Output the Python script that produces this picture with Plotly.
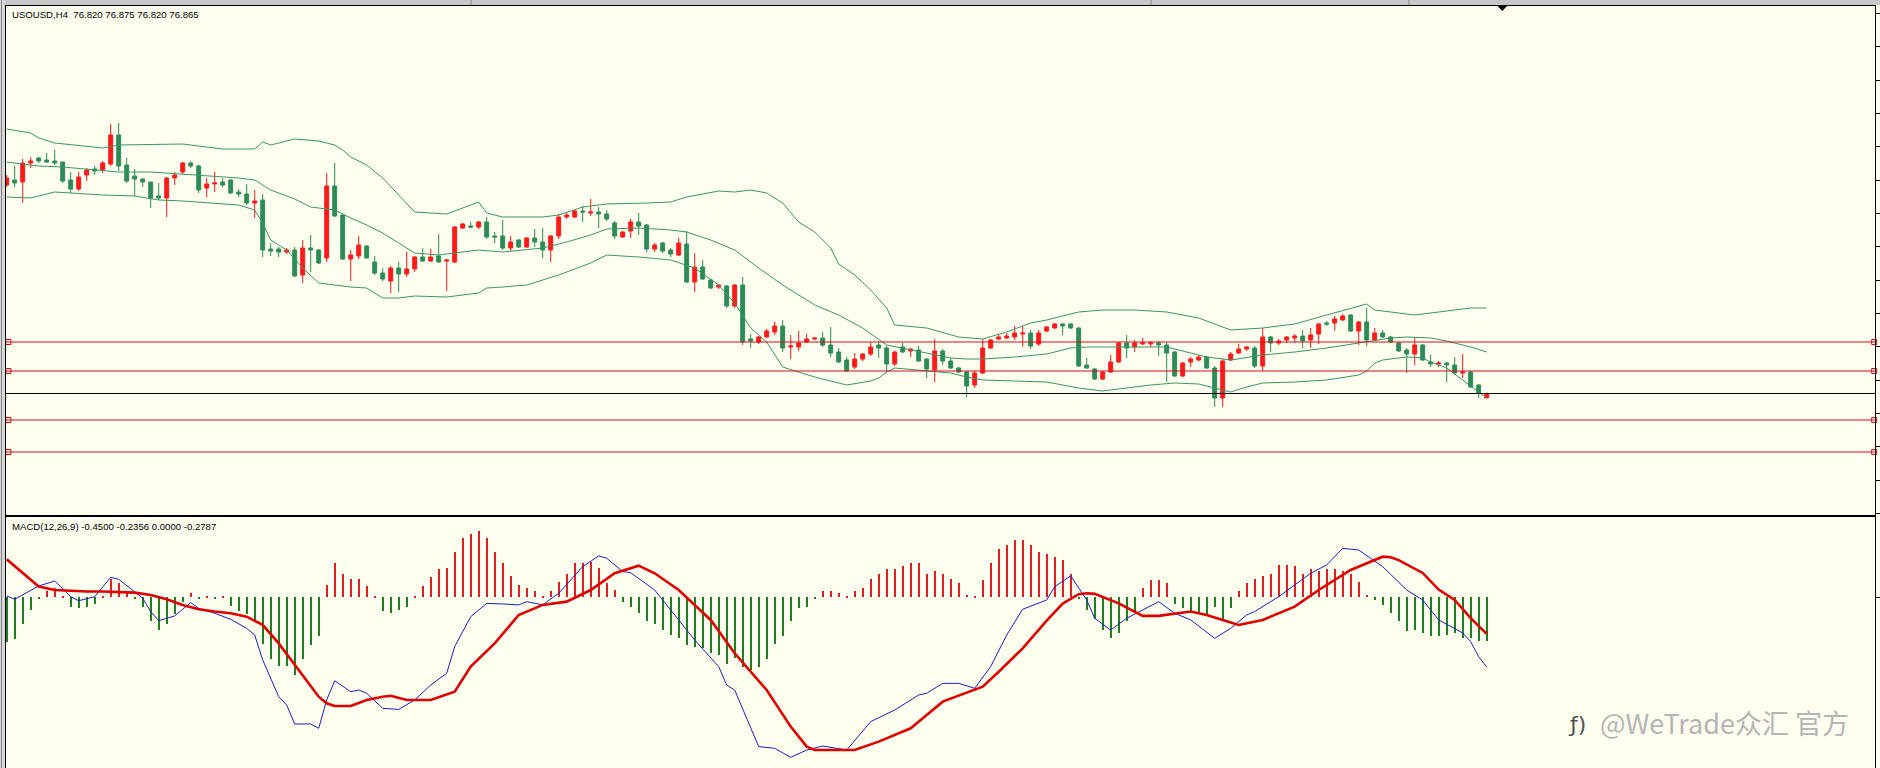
import plotly.graph_objects as go

# ---------------- data ----------------
symbol_header = "USOUSD,H4\u00a0\u00a076.820 76.875 76.820 76.865"
macd_header = "MACD(12,26,9) -0.4500 -0.2356 0.0000 -0.2787"

opens = [78.95,79.00,78.98,79.17,79.22,79.20,79.19,79.18,79.00,78.91,79.05,79.11,79.10,79.16,79.45,79.15,79.04,79.01,78.98,78.84,
         78.82,79.02,79.08,79.17,79.14,78.92,78.96,78.98,79.00,78.88,78.86,78.77,78.80,78.31,78.31,78.28,78.30,78.05,78.32,78.30,
         78.22,78.94,78.65,78.21,78.24,78.34,78.18,78.07,77.99,78.12,78.06,78.11,78.23,78.19,78.24,78.19,78.18,78.52,78.54,78.53,
         78.58,78.44,78.44,78.32,78.40,78.33,78.42,78.38,78.30,78.44,78.63,78.63,78.69,78.67,78.68,78.66,78.57,78.43,78.49,78.58,
         78.55,78.31,78.37,78.30,78.25,78.36,77.98,78.13,78.00,77.93,77.94,77.74,77.95,77.41,77.38,77.43,77.48,77.54,77.33,77.33,
         77.38,77.41,77.42,77.35,77.28,77.20,77.13,77.21,77.26,77.35,77.32,77.16,77.33,77.29,77.30,77.21,77.10,77.29,77.19,77.12,
         77.08,76.95,77.07,77.32,77.41,77.42,77.43,77.46,77.47,77.36,77.49,77.52,77.56,77.56,77.52,77.15,77.11,77.01,77.08,77.18,
         77.37,77.33,77.36,77.36,77.37,77.35,77.28,77.04,77.18,77.20,77.23,77.12,76.82,77.20,77.27,77.31,77.32,77.14,77.43,77.37,
         77.40,77.42,77.44,77.40,77.46,77.57,77.57,77.60,77.65,77.49,77.58,77.40,77.47,77.43,77.37,77.30,77.26,77.35,77.18,77.16,
         77.17,77.15,77.07,77.08,76.95,76.820]
highs = [79.05,79.14,79.21,79.23,79.23,79.27,79.30,79.18,79.08,79.08,79.12,79.14,79.19,79.56,79.57,79.22,79.11,79.02,78.98,78.97,
         79.03,79.08,79.18,79.19,79.15,79.02,79.08,79.02,79.01,78.91,78.96,78.90,78.86,78.37,78.33,78.32,78.33,78.40,78.45,78.31,
         79.07,79.17,78.65,78.30,78.44,78.35,78.24,78.12,78.14,78.18,78.28,78.24,78.32,78.31,78.46,78.21,78.54,78.57,78.58,78.59,
         78.63,78.48,78.60,78.44,78.41,78.43,78.51,78.52,78.45,78.66,78.68,78.70,78.74,78.81,78.73,78.70,78.59,78.49,78.61,78.67,
         78.56,78.37,78.38,78.32,78.42,78.49,78.27,78.20,78.01,77.96,77.95,77.96,78.03,77.46,77.44,77.51,77.58,77.60,77.45,77.49,
         77.46,77.43,77.48,77.53,77.32,77.23,77.27,77.27,77.38,77.39,77.34,77.29,77.37,77.32,77.34,77.22,77.41,77.31,77.22,77.13,
         77.09,77.09,77.41,77.41,77.46,77.47,77.54,77.54,77.50,77.50,77.54,77.57,77.57,77.57,77.53,77.22,77.12,77.09,77.25,77.38,
         77.45,77.40,77.42,77.39,77.39,77.38,77.29,77.18,77.23,77.25,77.24,77.14,77.21,77.28,77.36,77.34,77.34,77.52,77.44,77.41,
         77.44,77.46,77.50,77.52,77.57,77.59,77.64,77.66,77.66,77.59,77.72,77.52,77.50,77.44,77.38,77.32,77.43,77.36,77.25,77.19,
         77.18,77.23,77.26,77.09,76.96,76.875]
lows = [78.93,78.93,78.77,79.12,79.17,79.17,79.15,78.97,78.87,78.89,78.99,79.05,79.07,79.14,79.09,78.97,78.84,78.93,78.72,78.80,
        78.63,78.95,79.06,79.12,78.87,78.83,78.88,78.93,78.86,78.83,78.75,78.62,78.23,78.24,78.23,78.26,78.03,77.97,78.08,78.16,
        78.18,78.63,78.20,77.99,78.21,78.22,78.05,77.99,77.87,77.88,78.03,78.08,78.18,78.18,78.17,77.89,78.17,78.51,78.52,78.51,
        78.41,78.37,78.30,78.29,78.32,78.32,78.33,78.22,78.18,78.41,78.61,78.62,78.58,78.64,78.52,78.59,78.41,78.42,78.42,78.45,
        78.28,78.28,78.27,78.23,78.24,77.97,77.88,78.00,77.91,77.91,77.72,77.72,77.35,77.32,77.36,77.42,77.45,77.28,77.21,77.29,
        77.37,77.40,77.33,77.23,77.17,77.08,77.11,77.19,77.24,77.22,77.08,77.14,77.27,77.23,77.18,77.02,76.98,77.15,77.11,77.07,
        76.83,76.92,77.06,77.31,77.40,77.41,77.40,77.33,77.31,77.34,77.48,77.51,77.45,77.51,77.13,77.11,77.00,77.00,77.07,77.17,
        77.22,77.28,77.35,77.33,77.24,76.98,77.03,77.03,77.13,77.19,77.11,76.73,76.73,77.19,77.26,77.29,77.12,77.09,77.28,77.35,
        77.37,77.37,77.32,77.32,77.36,77.54,77.49,77.59,77.48,77.35,77.34,77.39,77.42,77.37,77.28,77.07,77.15,77.19,77.13,77.13,
        76.98,77.05,77.02,76.92,76.82,76.820]
closes = [79.02,78.97,79.17,79.19,79.19,79.18,79.17,78.99,78.91,79.03,79.10,79.09,79.17,79.45,79.14,78.99,79.01,78.98,78.82,78.82,
          79.02,79.05,79.17,79.14,78.90,78.96,78.97,78.95,78.87,78.86,78.77,78.79,78.30,78.29,78.28,78.30,78.04,78.32,78.30,78.17,
          78.94,78.64,78.21,78.25,78.35,78.22,78.07,78.01,78.12,78.06,78.11,78.23,78.19,78.23,78.18,78.20,78.53,78.56,78.53,78.58,
          78.43,78.43,78.32,78.38,78.33,78.42,78.38,78.30,78.44,78.63,78.65,78.69,78.68,78.68,78.66,78.61,78.44,78.48,78.58,78.54,
          78.31,78.35,78.29,78.26,78.37,77.98,78.13,78.01,77.92,77.95,77.74,77.95,77.38,77.39,77.43,77.49,77.54,77.32,77.34,77.37,
          77.41,77.42,77.35,77.27,77.18,77.09,77.21,77.26,77.33,77.32,77.16,77.28,77.28,77.31,77.19,77.11,77.29,77.19,77.12,77.08,
          76.94,77.07,77.32,77.40,77.43,77.44,77.47,77.47,77.34,77.47,77.53,77.56,77.54,77.52,77.14,77.12,77.01,77.08,77.18,77.37,
          77.32,77.37,77.37,77.37,77.35,77.27,77.04,77.17,77.21,77.23,77.12,76.82,77.19,77.26,77.31,77.33,77.14,77.43,77.37,77.39,
          77.43,77.44,77.39,77.45,77.56,77.56,77.61,77.64,77.49,77.58,77.40,77.47,77.43,77.38,77.29,77.26,77.35,77.20,77.16,77.17,
          77.15,77.07,77.08,76.93,76.87,76.865]

bb_up_idx = [0,3,4,6,12,14,22,27,31,32,33,36,39,41,42,43,45,47,49,51,55,59,60,62,67,69,72,75,80,83,85,89,91,93,95,97,99,101,
             103,104,106,108,110,111,115,119,122,125,128,130,134,137,141,145,149,153,157,161,165,168,170,171,174,176,179,183,185]
bb_up = [79.51,79.47,79.42,79.37,79.32,79.35,79.36,79.31,79.31,79.38,79.35,79.41,79.39,79.35,79.30,79.23,79.15,79.02,78.85,78.68,
         78.66,78.78,78.67,78.63,78.63,78.65,78.73,78.76,78.77,78.78,78.83,78.89,78.88,78.90,78.87,78.77,78.58,78.48,78.32,78.16,
         78.05,77.90,77.72,77.55,77.52,77.43,77.41,77.48,77.57,77.60,77.68,77.70,77.70,77.68,77.62,77.50,77.52,77.56,77.65,77.72,
         77.76,77.70,77.67,77.65,77.68,77.72,77.72]
bb_mid_idx = [0,4,7,10,14,18,20,22,26,29,31,33,36,38,41,43,45,47,49,51,54,56,59,62,67,70,73,75,79,83,85,88,91,94,97,99,101,
              104,107,110,112,115,118,120,122,126,130,133,135,140,145,150,153,157,161,165,169,173,175,178,180,183,185]
bb_mid = [79.18,79.14,79.13,79.11,79.08,79.08,79.07,79.06,79.04,79.02,79.00,78.90,78.81,78.73,78.70,78.62,78.55,78.47,78.37,78.27,
          78.25,78.27,78.30,78.28,78.32,78.38,78.45,78.51,78.52,78.50,78.48,78.40,78.30,78.12,77.95,77.85,77.75,77.65,77.52,77.35,
          77.32,77.27,77.22,77.21,77.21,77.23,77.26,77.32,77.33,77.33,77.33,77.23,77.20,77.25,77.28,77.32,77.37,77.42,77.43,77.42,
          77.39,77.33,77.28]
bb_low_idx = [0,3,6,8,12,16,19,22,26,29,31,32,33,35,37,39,43,45,47,49,51,55,59,60,62,65,69,73,75,79,83,86,89,91,93,95,97,101,
              105,108,109,110,111,114,118,120,122,126,130,134,137,140,143,146,149,152,153,155,157,161,165,169,170,171,172,175,
              177,178,180,182,184,185]
bb_low = [78.83,78.82,78.88,78.87,78.85,78.84,78.80,78.79,78.77,78.75,78.70,78.57,78.40,78.30,78.12,77.97,77.93,77.92,77.82,77.82,
          77.84,77.83,77.87,77.92,77.93,77.95,78.05,78.17,78.25,78.23,78.20,78.12,77.95,77.77,77.52,77.38,77.13,77.03,76.95,76.99,
          77.02,77.08,77.12,77.10,77.07,77.03,77.00,76.99,76.98,76.92,76.89,76.92,76.95,76.97,76.96,76.90,76.88,76.93,76.97,76.98,
          77.00,77.05,77.09,77.17,77.20,77.23,77.22,77.18,77.12,77.00,76.88,76.82]

red_levels = [77.38, 77.09, 76.60, 76.28]
bid_level = 76.865

hist = [-0.29,-0.27,-0.17,-0.08,-0.007,0.04,0.06,0.007,-0.06,-0.07,-0.06,-0.04,0.007,0.12,0.09,0.04,-0.007,-0.065,-0.15,-0.21,
        -0.17,-0.11,-0.03,0.026,-0.007,0.007,-0.007,0.007,-0.056,-0.086,-0.11,-0.15,-0.30,-0.40,-0.44,-0.44,-0.50,-0.40,-0.31,-0.25,
        0.08,0.22,0.15,0.12,0.12,0.07,0.007,-0.09,-0.10,-0.08,-0.06,0.007,0.07,0.13,0.18,0.19,0.29,0.38,0.41,0.43,
        0.38,0.29,0.22,0.14,0.08,0.06,0.04,0.007,0.04,0.10,0.15,0.22,0.22,0.23,0.19,0.09,0.05,-0.03,-0.06,-0.10,
        -0.15,-0.17,-0.21,-0.24,-0.26,-0.31,-0.32,-0.33,-0.36,-0.37,-0.43,-0.39,-0.45,-0.47,-0.45,-0.40,-0.30,-0.25,-0.15,-0.07,
        -0.06,-0.007,0.04,0.04,0.03,0.007,0.04,0.06,0.12,0.15,0.18,0.18,0.20,0.22,0.22,0.15,0.17,0.15,0.12,0.09,
        0.015,0.007,0.11,0.22,0.31,0.34,0.37,0.37,0.34,0.29,0.28,0.26,0.24,0.15,-0.01,-0.08,-0.14,-0.21,-0.26,-0.23,
        -0.15,-0.10,0.06,0.11,0.11,0.09,-0.04,-0.07,-0.10,-0.11,-0.12,-0.06,-0.15,-0.07,0.04,0.09,0.12,0.14,0.15,0.21,
        0.21,0.20,0.15,0.18,0.17,0.18,0.18,0.17,0.15,0.10,0.015,-0.02,-0.05,-0.10,-0.15,-0.22,-0.21,-0.23,-0.25,-0.25,
        -0.24,-0.23,-0.26,-0.26,-0.28,-0.2787]

macd_idx = [0,1,4,6,8,9,11,13,14,16,17,18,19,21,23,24,26,28,30,31,32,34,35,36,38,39,40,41,43,44,45,47,49,51,53,55,56,58,60,
            62,64,65,67,69,72,74,75,77,78,81,83,86,89,90,91,94,96,98,100,102,105,108,111,114,115,117,119,121,123,125,127,130,
            131,133,135,136,138,140,144,146,148,151,153,155,156,159,163,165,167,169,172,174,175,177,179,182,183,184,185]
macd_vals = [0.009,-0.013,0.073,0.105,0.004,-0.022,0.004,0.129,0.116,0.037,-0.006,-0.092,-0.151,-0.120,-0.034,-0.071,-0.103,
             -0.142,-0.200,-0.243,-0.404,-0.641,-0.695,-0.817,-0.817,-0.845,-0.662,-0.538,-0.609,-0.598,-0.619,-0.716,-0.723,
             -0.662,-0.566,-0.490,-0.318,-0.125,-0.039,-0.043,-0.049,-0.028,-0.049,0.026,0.198,0.267,0.252,0.166,0.159,0.047,
             -0.082,-0.275,-0.447,-0.566,-0.598,-0.963,-0.974,-1.032,-0.985,-0.959,-0.985,-0.802,-0.727,-0.630,-0.619,-0.555,
             -0.555,-0.587,-0.447,-0.243,-0.077,-0.017,0.069,0.138,-0.017,-0.135,-0.211,-0.135,-0.028,-0.103,-0.146,-0.265,
             -0.200,-0.114,-0.092,0.004,0.155,0.209,0.316,0.305,0.198,0.100,0.047,-0.017,-0.146,-0.230,-0.286,-0.383,-0.450]

sig_idx = [0,2,4,6,10,12,16,18,20,22,24,26,28,30,32,34,36,38,39,40,41,43,45,47,48,50,53,56,58,61,64,67,70,73,76,79,81,84,88,
           91,95,98,100,101,106,109,113,117,122,124,127,130,132,134,135,136,139,142,144,148,150,154,157,161,164,168,172,173,174,
           177,179,181,183,185]
sig_vals = [0.245,0.155,0.069,0.047,0.037,0.037,0.030,0.015,-0.013,-0.049,-0.077,-0.092,-0.103,-0.125,-0.178,-0.297,-0.437,
            -0.576,-0.641,-0.684,-0.701,-0.701,-0.662,-0.641,-0.635,-0.662,-0.662,-0.609,-0.447,-0.297,-0.114,-0.049,-0.028,
            0.047,0.155,0.204,0.155,0.047,-0.146,-0.361,-0.598,-0.834,-0.963,-0.985,-0.985,-0.931,-0.845,-0.673,-0.576,-0.480,
            -0.329,-0.150,-0.040,0.020,0.026,0.022,-0.039,-0.120,-0.120,-0.092,-0.114,-0.178,-0.146,-0.060,0.047,0.176,0.262,
            0.258,0.240,0.157,0.050,-0.017,-0.134,-0.236]

# ---------------- styling / geometry ----------------
W, H = 1880, 768
ML, MR, MT, MB = 6, 5, 6, 0
PW, PH = W - ML - MR, H - MT - MB

def fx(px):
    return (px - ML) / PW

def fy(py):
    return (H - MB - py) / PH

BG = "#FFFFF0"
CANDLE_UP = "#FF1A1A"
CANDLE_DN = "#2E8B57"
BAND = "#3A9566"
LEVEL = "#D80C18"
HIST_UP = "#E02020"
HIST_DN = "#1F7F1F"
MACD_C = "#1C1CC8"
SIG_C = "#E00000"

X_RANGE = [-0.0875, 233.54]
n = len(closes)
idx = list(range(n))

fig = go.Figure()

fig.add_trace(go.Candlestick(
    x=idx, open=opens, high=highs, low=lows, close=closes,
    increasing=dict(line=dict(color=CANDLE_UP, width=1), fillcolor=CANDLE_UP),
    decreasing=dict(line=dict(color=CANDLE_DN, width=1), fillcolor=CANDLE_DN),
    whiskerwidth=0, xaxis="x", yaxis="y", showlegend=False, hoverinfo="skip"))

for bx, by in ((bb_up_idx, bb_up), (bb_mid_idx, bb_mid), (bb_low_idx, bb_low)):
    fig.add_trace(go.Scatter(x=bx, y=by, mode="lines", line=dict(color=BAND, width=1),
                             xaxis="x", yaxis="y", showlegend=False, hoverinfo="skip"))

# square handles at both ends of the red level lines
fig.add_trace(go.Scatter(
    x=[X_RANGE[0] + 0.3] * len(red_levels) + [X_RANGE[1] - 0.1] * len(red_levels),
    y=red_levels + red_levels, mode="markers",
    marker=dict(symbol="square-open", size=5, color=LEVEL, line=dict(width=1, color=LEVEL)),
    xaxis="x", yaxis="y", showlegend=False, hoverinfo="skip", cliponaxis=False))

fig.add_trace(go.Bar(
    x=idx, y=hist, width=0.14,
    marker=dict(color=[HIST_UP if v > 0 else HIST_DN for v in hist], line=dict(width=0)),
    xaxis="x2", yaxis="y2", showlegend=False, hoverinfo="skip"))

fig.add_trace(go.Scatter(x=macd_idx, y=macd_vals, mode="lines", line=dict(color=MACD_C, width=1),
                         xaxis="x2", yaxis="y2", showlegend=False, hoverinfo="skip"))
fig.add_trace(go.Scatter(x=sig_idx, y=sig_vals, mode="lines", line=dict(color=SIG_C, width=2.6),
                         xaxis="x2", yaxis="y2", showlegend=False, hoverinfo="skip"))

shapes = []
for lv in red_levels:
    shapes.append(dict(type="line", xref="x domain", x0=0, x1=1, yref="y", y0=lv, y1=lv,
                       line=dict(color=LEVEL, width=1.2)))
shapes.append(dict(type="line", xref="x domain", x0=0, x1=1, yref="y", y0=bid_level, y1=bid_level,
                   line=dict(color="#000000", width=1)))
# window chrome: grey strips at top and left
shapes.append(dict(type="rect", xref="paper", yref="paper", x0=fx(0), x1=fx(W), y0=fy(5), y1=fy(0),
                   fillcolor="#C8C8C8", line=dict(width=0), layer="above"))
for sx in (471, 1151, 1409):
    shapes.append(dict(type="line", xref="paper", yref="paper", x0=fx(sx), x1=fx(sx), y0=fy(5), y1=fy(0),
                       line=dict(color="#808080", width=1), layer="above"))
shapes.append(dict(type="rect", xref="paper", yref="paper", x0=fx(0), x1=fx(5), y0=fy(H), y1=fy(0),
                   fillcolor="#D8D8D8", line=dict(width=0), layer="above"))
shapes.append(dict(type="line", xref="paper", yref="paper", x0=fx(1.5), x1=fx(1.5), y0=fy(H), y1=fy(0),
                   line=dict(color="#808080", width=1), layer="above"))
# chart-shift marker
shapes.append(dict(type="path", xref="paper", yref="paper",
                   path=f"M {fx(1497.5)} {fy(6)} L {fx(1507)} {fy(6)} L {fx(1502.3)} {fy(11)} Z",
                   fillcolor="#000000", line=dict(width=0), layer="above"))

annotations = [
    dict(text=symbol_header, xref="paper", yref="paper", x=fx(10), y=fy(14.5), xanchor="left",
         yanchor="middle", showarrow=False, font=dict(family="Liberation Sans, Arial", size=9.6, color="#000000")),
    dict(text=macd_header, xref="paper", yref="paper", x=fx(10), y=fy(526), xanchor="left",
         yanchor="middle", showarrow=False, font=dict(family="Liberation Sans, Arial", size=9.6, color="#000000")),
    dict(text="@WeTrade众汇 官方", xref="paper", yref="paper", x=fx(1598), y=fy(722), xanchor="left",
         yanchor="middle", showarrow=False,
         font=dict(family="Noto Sans CJK SC, Noto Sans", size=27, color="#B4B4B4")),
    dict(text="ƒ)", xref="paper", yref="paper", x=fx(1566), y=fy(724), xanchor="left",
         yanchor="middle", showarrow=False, font=dict(family="DejaVu Sans", size=22, color="#505050")),
]

axis_common = dict(showgrid=False, zeroline=False, showline=True, linecolor="#000000", linewidth=1, mirror=True)

fig.update_layout(
    width=W, height=H,
    margin=dict(l=ML, r=MR, t=MT, b=MB),
    paper_bgcolor=BG, plot_bgcolor=BG,
    showlegend=False, bargap=0,
    xaxis=dict(domain=[0, 1], anchor="y", range=X_RANGE, showticklabels=False, ticks="",
               rangeslider=dict(visible=False), **axis_common),
    yaxis=dict(domain=[fy(515), 1.0], anchor="x", side="right", range=[75.65, 80.74],
               ticks="outside", ticklen=4, tickcolor="#000000", tick0=77.0, dtick=1 / 3,
               showticklabels=False, **axis_common),
    xaxis2=dict(domain=[0, 1], anchor="y2", matches="x", range=X_RANGE, showticklabels=False, ticks="",
                **axis_common),
    yaxis2=dict(domain=[0, fy(517)], anchor="x2", side="right", range=[-1.101, 0.518],
                ticks="outside", ticklen=4, tickcolor="#000000", tickvals=[0],
                showticklabels=False, **axis_common),
    shapes=shapes, annotations=annotations,
)

fig.write_html("out.html", config={"displayModeBar": False},
               post_script="document.body.style.margin='0';document.body.style.overflow='hidden';")
